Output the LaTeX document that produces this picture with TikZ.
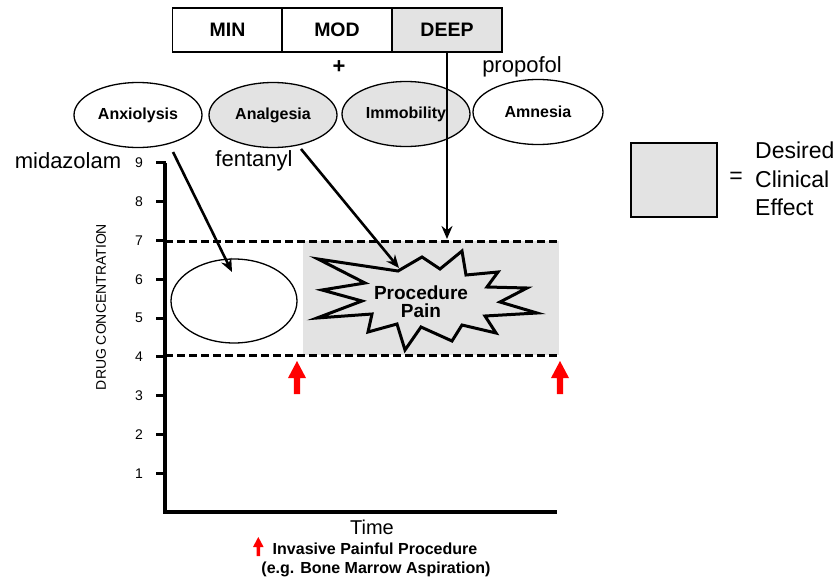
\documentclass[tikz,border=0pt]{standalone}
\usepackage{fontspec}
\setmainfont{Liberation Sans}
\usetikzlibrary{shapes.geometric,arrows.meta}
\definecolor{effgray}{HTML}{E3E3E3}
\begin{document}
\begin{tikzpicture}[x=1pt,y=-1pt,
  lvl/.style={draw, line width=1.3pt, minimum width=110pt, minimum height=44pt, inner sep=0, font=\bfseries\fontsize{19.5}{22}\selectfont},
  eff/.style={ellipse, draw, line width=1.3pt, minimum width=128pt, minimum height=65pt, inner sep=0, font=\bfseries\fontsize{16}{18}\selectfont},
  drug/.style={font=\fontsize{22}{26}\selectfont, inner sep=0},
  tickmark/.style={line width=3pt},
  ticklab/.style={font=\fontsize{14}{16}\selectfont, inner sep=0, anchor=east},
  ptr/.style={line width=2.6pt, -{Stealth[length=13pt,width=11pt]}},
  lvlline/.style={line width=3pt, dash pattern=on 8pt off 4pt},
  redmark/.style={fill=red, draw=none},
]
\useasboundingbox (0,0) rectangle (839,579);

% sedation depth boxes
\node[lvl] (min) at (227.5,30) {MIN};
\node[lvl] (mod) at (337,30) {MOD};
\node[lvl, fill=effgray] (deep) at (447,30) {DEEP};

% plus and drug names
\node[font=\bfseries\fontsize{22}{24}\selectfont, inner sep=0] (plus) at (339,67) {+};
\node[drug] (prop) at (522,67) {propofol};
\node[drug] (midaz) at (68,161) {midazolam};
\node[drug] (fent) at (254,161) {fentanyl};

% effect ellipses
\node[eff] (anx) at (138,115) {Anxiolysis};
\node[eff, fill=effgray] (ana) at (273,115) {Analgesia};
\node[eff, fill=effgray] (imm) at (406,114) {Immobility};
\node[eff, minimum width=130pt] (amn) at (538,112) {Amnesia};

% desired band
\fill[effgray] (303,241) rectangle (559,355);
\coordinate (l7a) at (165,241); \coordinate (l7b) at (559,241);
\coordinate (l4a) at (165,355); \coordinate (l4b) at (559,355);
\draw[lvlline] (l7a) -- (l7b);
\draw[lvlline] (l4a) -- (l4b);

% axes
\coordinate (ytop) at (165,163);
\coordinate (orig) at (165,512);
\coordinate (xend) at (557,512);
\draw[line width=3.5pt, line join=miter] (ytop) -- (orig) -- (xend);
\foreach \v in {1,...,9}{
  \pgfmathsetmacro\yy{512-38.8*\v}
  \draw[tickmark] (156,\yy) -- (166,\yy);
  \node[ticklab] (t\v) at (143,\yy) {\v};
}
\node[font=\fontsize{14}{16}\selectfont, rotate=90, inner sep=0] (ylab) at (101,307) {DRUG CONCENTRATION};

% anxiolysis target ellipse
\node[ellipse, draw, line width=1.3pt, minimum width=126pt, minimum height=84pt, inner sep=0] (target) at (234,301) {};

% procedure pain starburst
\draw[line width=3pt, line join=miter]
  (318,259) -- (398,271) -- (422,257) -- (440,269) -- (462,251) -- (466,275)
  -- (498,272) -- (487,287) -- (527,288) -- (500,302) -- (537,313) -- (485,316)
  -- (496,333) -- (462,325) -- (452,341) -- (421,327) -- (405,350) -- (397,324)
  -- (368,332) -- (372,314) -- (317,318) -- (362,301) -- (322,290) -- (365,283) -- cycle;
\node[font=\bfseries\fontsize{19}{18}\selectfont, align=center, inner sep=0] (pain) at (421,302) {Procedure\\Pain};

% arrows
\coordinate (mzs) at (173,152); \coordinate (mze) at (232,272);
\draw[ptr] (mzs) -- (mze);
\coordinate (fts) at (301,149); \coordinate (fte) at (399,268);
\draw[ptr] (fts) -- (fte);
\coordinate (d7) at (447,239);
\draw[ptr] (deep.south -| d7) -- (d7);

% red procedure markers
\foreach \x in {297,560}{
  \fill[redmark] (\x-3.2,394) -- (\x-3.2,378) -- (\x-9,378) -- (\x,361) -- (\x+9,378) -- (\x+3.2,378) -- (\x+3.2,394) -- cycle;
}
\fill[redmark] (256.5,556) -- (256.5,547) -- (253,547) -- (258.3,537) -- (263.6,547) -- (260.1,547) -- (260.1,556) -- cycle;

% bottom labels
\node[font=\fontsize{20}{22}\selectfont, inner sep=0] (time) at (372,527) {Time};
\node[font=\bfseries\fontsize{16}{18}\selectfont, inner sep=0] (inv) at (375,549) {Invasive Painful Procedure};
\node[font=\bfseries\fontsize{16}{18}\selectfont, inner sep=0] (eg) at (376,569) {(e.g. Bone Marrow Aspiration)};

% legend
\node[draw, line width=1.3pt, fill=effgray, minimum width=86pt, minimum height=74pt, inner sep=0] (leg) at (674,180) {};
\node[font=\fontsize{23}{26}\selectfont, inner sep=0] (eq) at (736,178) {=};
\node[font=\fontsize{23}{28.5}\selectfont, align=left, anchor=west, inner sep=0] (legtxt) at (755,179) {Desired\\Clinical\\Effect};
\end{tikzpicture}
\end{document}
